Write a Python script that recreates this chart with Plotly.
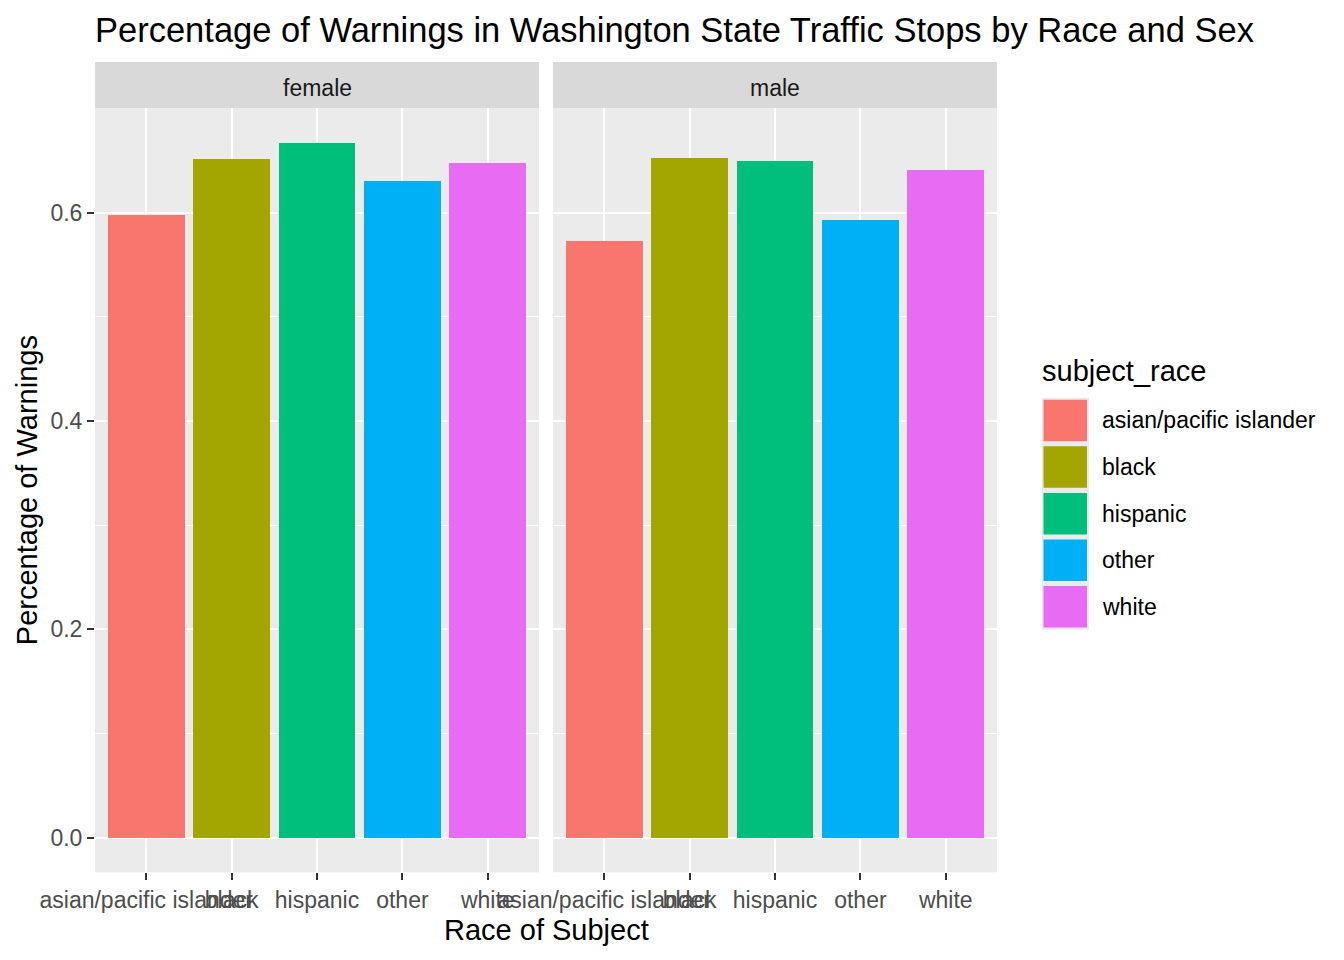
import plotly.graph_objects as go

# ---- data ----
races = ["asian/pacific islander", "black", "hispanic", "other", "white"]
race_colors = ["#F8766D", "#A3A500", "#00BF7D", "#00B0F6", "#E76BF3"]
sexes = ["female", "male"]
female_pct = [0.598, 0.651, 0.667, 0.630, 0.648]
male_pct = [0.573, 0.652, 0.649, 0.593, 0.641]
y_tick_vals = [0.0, 0.2, 0.4, 0.6]
y_tick_text = ["0.0", "0.2", "0.4", "0.6"]

W, H = 1344, 960
FONT = "Liberation Sans, Arial, sans-serif"

def px(x):
    return x / W

def py(y):
    return 1 - y / H

panel_x = [(95, 539), (553, 997)]
panel_top, panel_bottom = 108, 872.3
strip_top = 62

fig = go.Figure()
series = [female_pct, male_pct]
for i, sex in enumerate(sexes):
    xa = "x" if i == 0 else "x2"
    ya = "y" if i == 0 else "y2"
    fig.add_trace(go.Bar(
        x=races, y=series[i], marker=dict(color=race_colors, line=dict(width=0)),
        width=0.9, xaxis=xa, yaxis=ya, showlegend=False, name=sex,
    ))

ymax = max(max(female_pct), max(male_pct))
yrange = [-0.05 * ymax, 1.05 * ymax]

axis_common_x = dict(
    type="category", range=[-0.6, 4.6], showgrid=True, gridcolor="white", gridwidth=2,
    ticks="outside", ticklen=7, tickwidth=2, tickcolor="#333333", tickangle=0,
    tickfont=dict(family=FONT, size=23, color="#4d4d4d"), showline=False, zeroline=False,
    categoryorder="array", categoryarray=races, automargin=False,
)
axis_common_y = dict(
    range=yrange, tickvals=y_tick_vals, showgrid=True, gridcolor="white", gridwidth=2,
    minor=dict(dtick=0.1, tick0=0, showgrid=True, gridcolor="white", gridwidth=1),
    zeroline=False, showline=False, automargin=False,
)

fig.update_layout(
    width=W, height=H, margin=dict(l=0, r=0, t=0, b=0),
    paper_bgcolor="white", plot_bgcolor="#ebebeb", bargap=0,
    font=dict(family=FONT),
    xaxis=dict(domain=[px(panel_x[0][0]), px(panel_x[0][1])], anchor="y", **axis_common_x),
    xaxis2=dict(domain=[px(panel_x[1][0]), px(panel_x[1][1])], anchor="y2", **axis_common_x),
    yaxis=dict(domain=[py(panel_bottom), py(panel_top)], anchor="x",
               ticktext=y_tick_text, ticks="outside", ticklen=7, tickwidth=2,
               tickcolor="#333333", tickfont=dict(family=FONT, size=23, color="#4d4d4d"),
               **axis_common_y),
    yaxis2=dict(domain=[py(panel_bottom), py(panel_top)], anchor="x2",
                showticklabels=False, ticks="", matches="y", **axis_common_y),
    showlegend=False,
    title=dict(text="Percentage of Warnings in Washington State Traffic Stops by Race and Sex",
               x=px(95), xanchor="left", y=py(30), yanchor="middle",
               font=dict(family=FONT, size=34.5, color="black")),
)

shapes = []
annotations = []
# facet strips
for i, sex in enumerate(sexes):
    x0, x1 = panel_x[i]
    shapes.append(dict(type="rect", xref="paper", yref="paper", x0=px(x0), x1=px(x1),
                       y0=py(panel_top), y1=py(strip_top), fillcolor="#d9d9d9",
                       line=dict(width=0), layer="below"))
    annotations.append(dict(text=sex, xref="paper", yref="paper", x=px((x0 + x1) / 2),
                            y=py((strip_top + panel_top) / 2 + 2.5), xanchor="center", yanchor="middle",
                            showarrow=False, font=dict(family=FONT, size=23, color="#1a1a1a")))

# axis titles
annotations.append(dict(text="Race of Subject", xref="paper", yref="paper",
                        x=px((panel_x[0][0] + panel_x[1][1]) / 2), y=py(930),
                        xanchor="center", yanchor="middle", showarrow=False,
                        font=dict(family=FONT, size=29, color="black")))
annotations.append(dict(text="Percentage of Warnings", xref="paper", yref="paper",
                        x=px(27), y=py((panel_top + panel_bottom) / 2), textangle=-90,
                        xanchor="center", yanchor="middle", showarrow=False,
                        font=dict(family=FONT, size=29, color="black")))

# legend (drawn manually)
annotations.append(dict(text="subject_race", xref="paper", yref="paper", x=px(1040), y=py(371),
                        xanchor="left", yanchor="middle", showarrow=False,
                        font=dict(family=FONT, size=29, color="black")))
key_top0, key_step, key_h = 399.7, 46.6, 41.5
shapes.append(dict(type="rect", xref="paper", yref="paper", x0=px(1042), x1=px(1089),
                   y0=py(key_top0 - 2 + key_step * len(races) - 1), y1=py(key_top0 - 2),
                   fillcolor="#ebebeb", line=dict(width=0)))
for j, (race, col) in enumerate(zip(races, race_colors)):
    t = key_top0 + key_step * j
    shapes.append(dict(type="rect", xref="paper", yref="paper", x0=px(1043.5), x1=px(1087),
                       y0=py(t + key_h), y1=py(t), fillcolor=col, line=dict(width=0)))
    annotations.append(dict(text=race, xref="paper", yref="paper", x=px(1100), y=py(t + key_h / 2),
                            xanchor="left", yanchor="middle", showarrow=False,
                            font=dict(family=FONT, size=23, color="black")))

fig.update_layout(shapes=shapes, annotations=annotations)
fig.write_html("out.html")
